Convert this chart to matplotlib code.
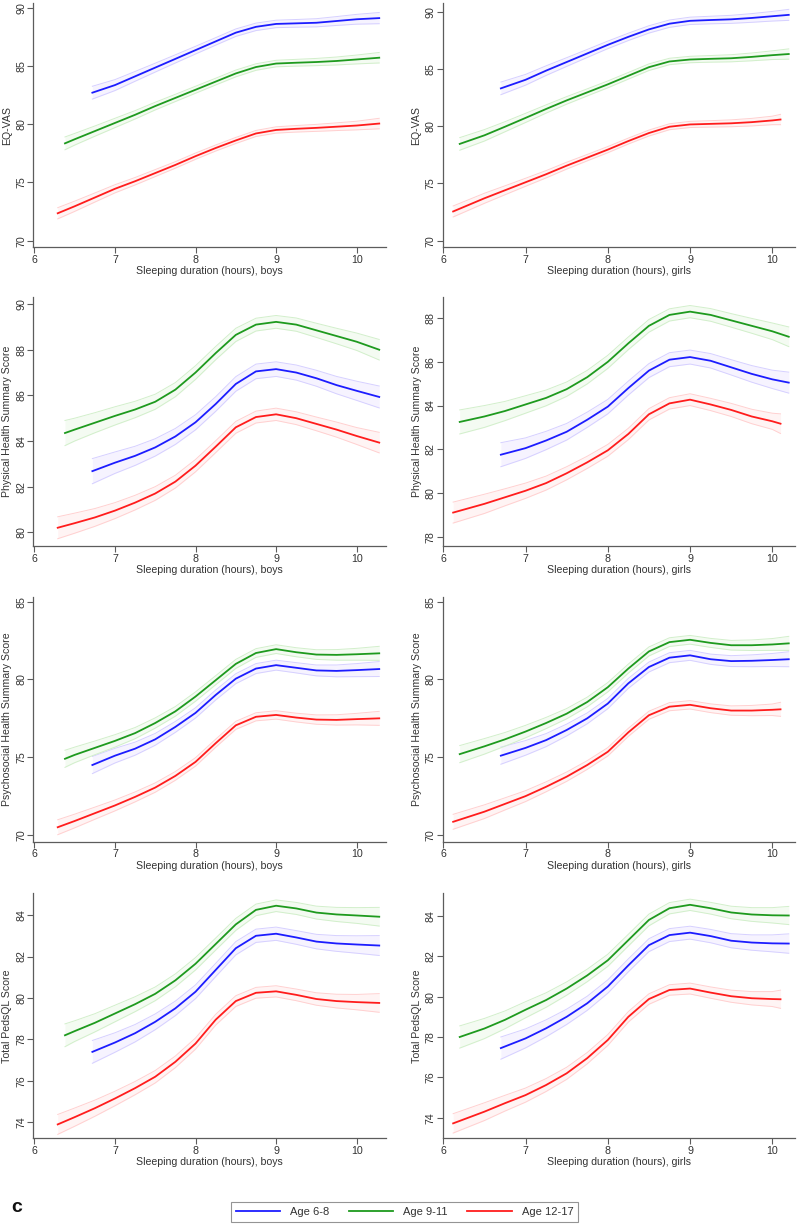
import matplotlib
matplotlib.use("Agg")
import matplotlib.pyplot as plt
from matplotlib.lines import Line2D

W, H = 797, 1225
plt.rcParams["font.family"] = ["Liberation Sans", "DejaVu Sans"]

AGES = ["Age 6-8", "Age 9-11", "Age 12-17"]

# sleeping duration (hours) at which each fitted curve was read
X_BOYS = {
    "Age 6-8": [6.72, 7.0, 7.25, 7.5, 7.75, 8.0, 8.25, 8.5, 8.75, 9.0, 9.25, 9.5, 9.75, 10.0, 10.28],
    "Age 9-11": [6.38, 6.5, 6.75, 7.0, 7.25, 7.5, 7.75, 8.0, 8.25, 8.5, 8.75, 9.0, 9.25, 9.5, 9.75, 10.0, 10.28],
    "Age 12-17": [6.29, 6.5, 6.75, 7.0, 7.25, 7.5, 7.75, 8.0, 8.25, 8.5, 8.75, 9.0, 9.25, 9.5, 9.75, 10.0, 10.28],
}
X_GIRLS = {
    "Age 6-8": [6.7, 7.0, 7.25, 7.5, 7.75, 8.0, 8.25, 8.5, 8.75, 9.0, 9.25, 9.5, 9.75, 10.0, 10.2],
    "Age 9-11": [6.2, 6.5, 6.75, 7.0, 7.25, 7.5, 7.75, 8.0, 8.25, 8.5, 8.75, 9.0, 9.25, 9.5, 9.75, 10.0, 10.2],
    "Age 12-17": [6.12, 6.5, 6.75, 7.0, 7.25, 7.5, 7.75, 8.0, 8.25, 8.5, 8.75, 9.0, 9.25, 9.5, 9.75, 10.0, 10.1],
}

# half-width of the confidence band
CI_BOYS = {
    "Age 6-8": [0.55, 0.47, 0.42, 0.38, 0.35, 0.33, 0.32, 0.32, 0.32, 0.32, 0.33, 0.35, 0.38, 0.42, 0.48],
    "Age 9-11": [0.55, 0.5, 0.44, 0.4, 0.36, 0.33, 0.31, 0.3, 0.29, 0.29, 0.28, 0.28, 0.29, 0.31, 0.34, 0.38, 0.45],
    "Age 12-17": [0.48, 0.44, 0.39, 0.35, 0.32, 0.3, 0.28, 0.27, 0.26, 0.26, 0.26, 0.27, 0.28, 0.3, 0.33, 0.37, 0.45],
}
CI_GIRLS = {
    "Age 6-8": [0.55, 0.47, 0.42, 0.38, 0.35, 0.33, 0.32, 0.32, 0.32, 0.32, 0.33, 0.35, 0.38, 0.42, 0.48],
    "Age 9-11": [0.55, 0.5, 0.44, 0.4, 0.36, 0.33, 0.31, 0.3, 0.29, 0.29, 0.28, 0.28, 0.29, 0.31, 0.34, 0.38, 0.45],
    "Age 12-17": [0.48, 0.44, 0.39, 0.35, 0.32, 0.3, 0.28, 0.27, 0.26, 0.26, 0.26, 0.27, 0.28, 0.3, 0.33, 0.37, 0.45],
}

EQVAS_BOYS = {
    "Age 6-8": [82.7, 83.35, 84.1, 84.85, 85.6, 86.35, 87.1, 87.85, 88.35, 88.6, 88.65, 88.7, 88.85, 89.0, 89.1],
    "Age 9-11": [78.35, 78.7, 79.4, 80.1, 80.8, 81.55, 82.25, 82.95, 83.65, 84.35, 84.9, 85.2, 85.27, 85.33, 85.42, 85.55, 85.7],
    "Age 12-17": [72.35, 72.95, 73.7, 74.45, 75.1, 75.8, 76.5, 77.25, 77.95, 78.6, 79.2, 79.5, 79.6, 79.68, 79.78, 79.88, 80.05],
}
EQVAS_GIRLS = {
    "Age 6-8": [83.3, 84.05, 84.85, 85.6, 86.35, 87.1, 87.8, 88.45, 88.95, 89.2, 89.27, 89.33, 89.45, 89.6, 89.72],
    "Age 9-11": [78.45, 79.2, 79.95, 80.72, 81.5, 82.25, 82.95, 83.65, 84.4, 85.15, 85.65, 85.82, 85.88, 85.93, 86.05, 86.2, 86.3],
    "Age 12-17": [72.55, 73.7, 74.4, 75.1, 75.8, 76.55, 77.25, 77.95, 78.7, 79.4, 79.95, 80.15, 80.2, 80.25, 80.35, 80.5, 80.58],
}
PHYS_BOYS = {
    "Age 6-8": [82.68, 83.05, 83.35, 83.72, 84.2, 84.82, 85.62, 86.5, 87.05, 87.15, 87.0, 86.75, 86.45, 86.2, 85.93],
    "Age 9-11": [84.35, 84.5, 84.8, 85.1, 85.38, 85.72, 86.25, 87.0, 87.85, 88.65, 89.1, 89.22, 89.1, 88.85, 88.6, 88.35, 88.0],
    "Age 12-17": [80.2, 80.4, 80.65, 80.95, 81.3, 81.7, 82.22, 82.92, 83.75, 84.6, 85.05, 85.17, 85.0, 84.75, 84.5, 84.22, 83.93],
}
PHYS_GIRLS = {
    "Age 6-8": [81.75, 82.05, 82.4, 82.8, 83.35, 83.95, 84.8, 85.6, 86.1, 86.22, 86.05, 85.75, 85.45, 85.2, 85.05],
    "Age 9-11": [83.25, 83.5, 83.75, 84.05, 84.35, 84.75, 85.3, 86.0, 86.85, 87.65, 88.15, 88.3, 88.15, 87.9, 87.65, 87.4, 87.15],
    "Age 12-17": [79.1, 79.5, 79.8, 80.1, 80.45, 80.9, 81.4, 81.95, 82.7, 83.6, 84.1, 84.27, 84.05, 83.8, 83.5, 83.28, 83.17],
}
PSYCH_BOYS = {
    "Age 6-8": [74.5, 75.1, 75.55, 76.15, 76.95, 77.85, 79.0, 80.05, 80.7, 80.92, 80.75, 80.58, 80.55, 80.6, 80.67],
    "Age 9-11": [74.9, 75.15, 75.6, 76.05, 76.55, 77.2, 77.95, 78.9, 79.95, 81.0, 81.7, 81.95, 81.75, 81.6, 81.58, 81.62, 81.68],
    "Age 12-17": [70.5, 70.9, 71.4, 71.9, 72.45, 73.05, 73.8, 74.7, 75.9, 77.05, 77.6, 77.72, 77.55, 77.42, 77.4, 77.45, 77.5],
}
PSYCH_GIRLS = {
    "Age 6-8": [75.1, 75.6, 76.1, 76.75, 77.5, 78.45, 79.75, 80.8, 81.4, 81.55, 81.3, 81.18, 81.2, 81.25, 81.3],
    "Age 9-11": [75.2, 75.7, 76.15, 76.65, 77.2, 77.8, 78.55, 79.5, 80.7, 81.8, 82.4, 82.55, 82.35, 82.2, 82.2, 82.25, 82.32],
    "Age 12-17": [70.85, 71.5, 72.0, 72.5, 73.1, 73.75, 74.5, 75.35, 76.6, 77.7, 78.25, 78.37, 78.15, 78.0, 78.0, 78.05, 78.08],
}
TOTAL_BOYS = {
    "Age 6-8": [77.4, 77.85, 78.3, 78.85, 79.5, 80.3, 81.35, 82.4, 83.0, 83.1, 82.92, 82.72, 82.63, 82.58, 82.53],
    "Age 9-11": [78.2, 78.4, 78.8, 79.25, 79.7, 80.2, 80.85, 81.65, 82.6, 83.55, 84.25, 84.45, 84.32, 84.12, 84.03, 83.98, 83.92],
    "Age 12-17": [73.9, 74.25, 74.68, 75.15, 75.65, 76.2, 76.92, 77.8, 78.95, 79.85, 80.25, 80.32, 80.15, 79.95, 79.85, 79.8, 79.76],
}
TOTAL_GIRLS = {
    "Age 6-8": [77.45, 77.93, 78.43, 79.0, 79.67, 80.5, 81.55, 82.55, 83.05, 83.17, 83.0, 82.77, 82.68, 82.64, 82.63],
    "Age 9-11": [78.0, 78.42, 78.85, 79.35, 79.83, 80.4, 81.05, 81.8, 82.8, 83.8, 84.38, 84.55, 84.38, 84.17, 84.07, 84.03, 84.02],
    "Age 12-17": [73.72, 74.3, 74.72, 75.12, 75.62, 76.2, 76.95, 77.85, 79.0, 79.88, 80.33, 80.4, 80.2, 80.02, 79.92, 79.88, 79.87],
}

LINE_COLORS = {"Age 6-8": "#1c1cff", "Age 9-11": "#1e9a1e", "Age 12-17": "#ff1c1c"}
BAND_EDGE = {"Age 6-8": "#d6d0ff", "Age 9-11": "#d2efcb", "Age 12-17": "#ffd0d0"}
BAND_FILL = {"Age 6-8": "#f6f3ff", "Age 9-11": "#f4fbf2", "Age 12-17": "#fff4f4"}

AXIS_COLOR = "#5c5c5c"
TEXT_COLOR = "#333333"

# panel frames in pixels: (left, top, right, bottom)
ROW_TOPS = [3.3, 297.0, 596.7, 893.3]
ROW_BOTTOMS = [247.3, 546.0, 841.7, 1138.3]
COL_LEFTS = [33.3, 442.7]
COL_RIGHTS = [386.0, 795.0]
XLIMS = [(5.987, 10.364), (5.993, 10.276)]

fig = plt.figure(figsize=(W / 100, H / 100), dpi=100)


def add_panel(row, col, ys, ylim, yticks, ylabel):
    left, right = COL_LEFTS[col], COL_RIGHTS[col]
    top, bottom = ROW_TOPS[row], ROW_BOTTOMS[row]
    ax = fig.add_axes([left / W, 1 - bottom / H, (right - left) / W, (bottom - top) / H])
    xs = X_BOYS if col == 0 else X_GIRLS
    cis = CI_BOYS if col == 0 else CI_GIRLS

    for age in AGES:
        lo = [v - h for v, h in zip(ys[age], cis[age])]
        hi = [v + h for v, h in zip(ys[age], cis[age])]
        ax.fill_between(xs[age], lo, hi, color=BAND_FILL[age], lw=0, zorder=1)
        ax.plot(xs[age], lo, color=BAND_EDGE[age], lw=0.7, zorder=2)
        ax.plot(xs[age], hi, color=BAND_EDGE[age], lw=0.7, zorder=2)
    for age in AGES:
        ax.plot(xs[age], ys[age], color=LINE_COLORS[age], lw=1.3,
                solid_joinstyle="round", zorder=3)

    ax.set_xlim(*XLIMS[col])
    ax.set_ylim(*ylim)
    ax.set_xticks([6, 7, 8, 9, 10])
    ax.set_yticks(yticks)
    for side in ("top", "right"):
        ax.spines[side].set_visible(False)
    for side in ("left", "bottom"):
        ax.spines[side].set_color(AXIS_COLOR)
        ax.spines[side].set_linewidth(0.9)
    ax.tick_params(direction="out", length=4, width=0.8, color=AXIS_COLOR,
                   labelsize=7.7, labelcolor=TEXT_COLOR)
    ax.tick_params(axis="x", pad=1.5)
    ax.tick_params(axis="y", pad=1, labelrotation=90)
    for lab in ax.get_yticklabels():
        lab.set_va("center")
    sex = "boys" if col == 0 else "girls"
    ax.set_xlabel(f"Sleeping duration (hours), {sex}", fontsize=7.6,
                  color=TEXT_COLOR, labelpad=1)
    ax.set_ylabel(ylabel, fontsize=7.6, color=TEXT_COLOR, labelpad=3)
    return ax


add_panel(0, 0, EQVAS_BOYS, (69.43, 90.37), [70, 75, 80, 85, 90], "EQ-VAS")
add_panel(0, 1, EQVAS_GIRLS, (69.42, 90.73), [70, 75, 80, 85, 90], "EQ-VAS")
add_panel(1, 0, PHYS_BOYS, (79.4, 90.31), [80, 82, 84, 86, 88, 90], "Physical Health Summary Score")
add_panel(1, 1, PHYS_GIRLS, (77.57, 88.97), [78, 80, 82, 84, 86, 88], "Physical Health Summary Score")
add_panel(2, 0, PSYCH_BOYS, (69.57, 85.32), [70, 75, 80, 85], "Psychosocial Health Summary Score")
add_panel(2, 1, PSYCH_GIRLS, (69.57, 85.32), [70, 75, 80, 85], "Psychosocial Health Summary Score")
add_panel(3, 0, TOTAL_BOYS, (73.23, 85.05), [74, 76, 78, 80, 82, 84], "Total PedsQL Score")
add_panel(3, 1, TOTAL_GIRLS, (72.98, 85.12), [74, 76, 78, 80, 82, 84], "Total PedsQL Score")

handles = [Line2D([], [], color=LINE_COLORS[a], lw=1.3) for a in AGES]
leg = fig.legend(handles, AGES, loc="center", bbox_to_anchor=(404.5 / W, 1 - 1212 / H),
                 ncol=3, frameon=True, fancybox=False, fontsize=8,
                 handlelength=4.0, handletextpad=0.9, columnspacing=1.75,
                 borderpad=0.45, borderaxespad=0)
leg.get_frame().set_edgecolor("#7a7a7a")
leg.get_frame().set_linewidth(0.8)
for t in leg.get_texts():
    t.set_color(TEXT_COLOR)

fig.text(17 / W, 1 - 1207 / H, "c", fontsize=14, fontweight="bold",
         ha="center", va="center", color="#111111")

fig.savefig("out.png", dpi=100)
